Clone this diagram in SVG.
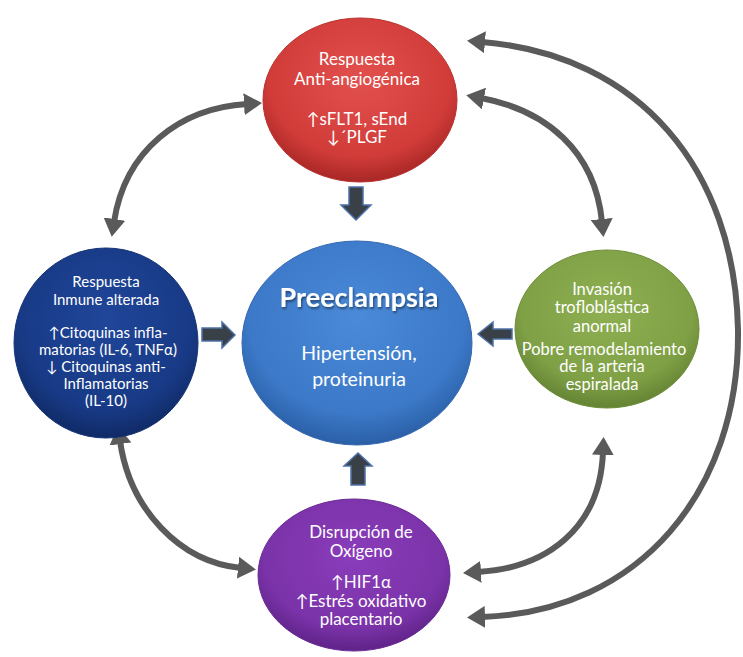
<svg xmlns="http://www.w3.org/2000/svg" width="743" height="657" viewBox="0 0 743 657">
<defs>
<radialGradient id="gRed" cx="50%" cy="38%" r="62%"><stop offset="0" stop-color="#e2504d"/><stop offset="0.75" stop-color="#d13c39"/><stop offset="1" stop-color="#a82725"/></radialGradient>
<radialGradient id="gNavy" cx="50%" cy="38%" r="62%"><stop offset="0" stop-color="#20469a"/><stop offset="0.75" stop-color="#183a86"/><stop offset="1" stop-color="#102a66"/></radialGradient>
<radialGradient id="gBlue" cx="50%" cy="38%" r="62%"><stop offset="0" stop-color="#4a8ad8"/><stop offset="0.75" stop-color="#3c79c8"/><stop offset="1" stop-color="#2a5fa6"/></radialGradient>
<radialGradient id="gGreen" cx="50%" cy="38%" r="62%"><stop offset="0" stop-color="#8eb052"/><stop offset="0.75" stop-color="#7fa045"/><stop offset="1" stop-color="#648334"/></radialGradient>
<radialGradient id="gPurple" cx="50%" cy="38%" r="62%"><stop offset="0" stop-color="#8a3cba"/><stop offset="0.75" stop-color="#7b33a9"/><stop offset="1" stop-color="#5f2388"/></radialGradient>
<filter id="sh" x="-10%" y="-10%" width="120%" height="130%"><feDropShadow dx="1" dy="2" stdDeviation="1.2" flood-color="#000" flood-opacity="0.45"/></filter>
<marker id="ah" viewBox="0 0 18 22" refX="3" refY="11" markerWidth="18" markerHeight="22" markerUnits="userSpaceOnUse" orient="auto-start-reverse"><path d="M0,0 L18,11 L0,22 Z" fill="#5a5a5a"/></marker>
<style>
.t{font-family:Lato,"Open Sans","Liberation Sans",sans-serif;fill:#ffffff;text-anchor:middle;font-size:17px}
.s{font-size:15px}
.g{font-size:16.5px}
.title{font-weight:bold;font-size:27px}
.m{font-size:19.5px}
.curve{fill:none;stroke:#5a5a5a;stroke-width:6;marker-start:url(#ah);marker-end:url(#ah)}
.block{fill:#3a4048;stroke:#4d72a8;stroke-width:1.5}
</style>
</defs>
<rect width="743" height="657" fill="#ffffff"/>

<g id="connectors">
<path class="curve" d="M482,42 C640,55 735,170 738,330 C740,490 640,612 482,617"/>
<path class="curve" d="M481,98 C545,110 595,150 602,222"/>
<path class="curve" d="M603,452 C600,530 545,568 478,572"/>
<path class="curve" d="M114,222 C125,150 180,108 247,104"/>
<path class="curve" d="M120,441 C130,510 180,562 241,568"/>
<path class="block" d="M349,187 H363 V205 H371 L356,220 L341,205 H349 Z"/>
<path class="block" d="M351,485 H365 V466 H372 L358,453 L344,466 H351 Z"/>
<path class="block" d="M202,328 H222 V322 L235,335 L222,348 V341 H202 Z"/>
<path class="block" d="M512,329 H493 V322 L478,334 L493,346 V339 H512 Z"/>
</g>

<g id="node-antiangiogenica">
<ellipse cx="360" cy="100" rx="97" ry="82" fill="url(#gRed)" stroke="#b83230" stroke-width="1"/>
<text class="t" x="357" y="65">Respuesta</text>
<text class="t" x="357" y="85">Anti-angiogénica</text>
<text class="t" x="357" y="125">↑sFLT1, sEnd</text>
<text class="t" x="357" y="143">↓´PLGF</text>
</g>

<g id="node-inmune">
<ellipse cx="106" cy="343" rx="92" ry="95" fill="url(#gNavy)" stroke="#163476" stroke-width="1"/>
<text class="t s" x="106" y="287">Respuesta</text>
<text class="t s" x="106" y="305">Inmune alterada</text>
<text class="t s" x="108" y="338">↑Citoquinas  infla-</text>
<text class="t s" x="108" y="355">matorias (IL-6, TNFα)</text>
<text class="t s" x="106" y="372">↓ Citoquinas anti-</text>
<text class="t s" x="106" y="389">Inflamatorias</text>
<text class="t s" x="106" y="406">(IL-10)</text>
</g>

<g id="node-preeclampsia">
<ellipse cx="357" cy="343" rx="115" ry="102" fill="url(#gBlue)" stroke="#3468b0" stroke-width="1"/>
<text class="t title" x="359" y="307" filter="url(#sh)">Preeclampsia</text>
<text class="t m" x="359" y="360">Hipertensión,</text>
<text class="t m" x="359" y="386">proteinuria</text>
</g>

<g id="node-invasion">
<ellipse cx="607" cy="329" rx="92" ry="79" fill="url(#gGreen)" stroke="#6f8f3a" stroke-width="1"/>
<text class="t g" x="602" y="295">Invasión</text>
<text class="t g" x="602" y="313">trofloblástica</text>
<text class="t g" x="602" y="332">anormal</text>
<text class="t g" x="604" y="355">Pobre remodelamiento</text>
<text class="t g" x="602" y="372">de la arteria</text>
<text class="t g" x="602" y="390">espiralada</text>
</g>

<g id="node-oxigeno">
<ellipse cx="354" cy="575" rx="96" ry="76" fill="url(#gPurple)" stroke="#6a2a96" stroke-width="1"/>
<text class="t" x="361" y="538">Disrupción de</text>
<text class="t" x="361" y="557">Oxígeno</text>
<text class="t" x="361" y="588">↑HIF1α</text>
<text class="t" x="361" y="607">↑Estrés oxidativo</text>
<text class="t" x="361" y="625">placentario</text>
</g>
</svg>
